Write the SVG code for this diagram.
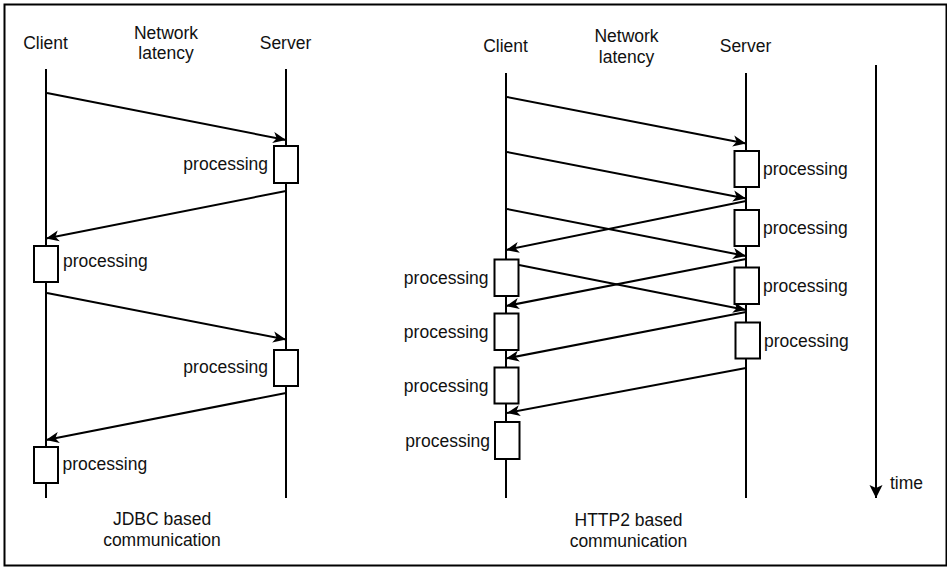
<svg xmlns="http://www.w3.org/2000/svg" width="947" height="567" viewBox="0 0 947 567">
<style>
text{font-family:"Liberation Sans",Arial,sans-serif;font-size:17.5px;fill:#111}
.c{text-anchor:middle}
.r{text-anchor:end}
.life{stroke:#000;stroke-width:2;fill:none}
.msg{stroke:#000;stroke-width:2;fill:none;marker-end:url(#arr)}
.box{fill:#fff;stroke:#000;stroke-width:2}
</style>
<defs>
<marker id="arr" markerUnits="userSpaceOnUse" markerWidth="14" markerHeight="12" refX="13" refY="5.5" orient="auto" overflow="visible">
<path d="M0,0 L13,5.5 L0,11 L3.5,5.5 Z" fill="#000"/>
</marker>
<marker id="tarr" markerUnits="userSpaceOnUse" markerWidth="14" markerHeight="14" refX="13" refY="6.5" orient="auto" overflow="visible">
<path d="M0,0 L13,6.5 L0,13 L3,6.5 Z" fill="#000"/>
</marker>
</defs>
<rect x="4.5" y="4.5" width="942" height="561" fill="#fff" stroke="#000" stroke-width="2"/>

<g id="jdbc-headers">
<text class="c" x="45.5" y="49">Client</text>
<text class="c" x="166" y="38.5">Network</text>
<text class="c" x="166" y="59">latency</text>
<text class="c" x="285.5" y="49">Server</text>
</g>
<g id="jdbc-client-lifeline"><line class="life" x1="46" y1="69" x2="46" y2="498"/></g>
<g id="jdbc-server-lifeline"><line class="life" x1="286" y1="69" x2="286" y2="498"/></g>

<g id="connectors">
<line class="msg" x1="47" y1="93" x2="286" y2="140"/>
<line class="msg" x1="286" y1="191" x2="46" y2="238.5"/>
<line class="msg" x1="47" y1="293" x2="286" y2="339.5"/>
<line class="msg" x1="286" y1="393" x2="46" y2="440"/>

<line class="msg" x1="507" y1="97" x2="746" y2="143.5"/>
<line class="msg" x1="507" y1="152" x2="746" y2="198.5"/>
<line class="msg" x1="507" y1="209" x2="746" y2="256"/>
<line class="msg" x1="519" y1="265" x2="746" y2="310"/>
<line class="msg" x1="746" y1="201" x2="506" y2="250"/>
<line class="msg" x1="746" y1="259" x2="506" y2="306"/>
<line class="msg" x1="746" y1="312" x2="506" y2="358.5"/>
<line class="msg" x1="746" y1="368" x2="507" y2="413"/>
</g>

<g id="jdbc-s1"><rect class="box" x="274" y="146" width="24" height="37"/><text class="r" x="268" y="170">processing</text></g>
<g id="jdbc-c1"><rect class="box" x="34" y="246" width="24" height="36"/><text x="63" y="267">processing</text></g>
<g id="jdbc-s2"><rect class="box" x="274" y="350" width="24" height="36"/><text class="r" x="268" y="372.5">processing</text></g>
<g id="jdbc-c2"><rect class="box" x="34" y="447" width="24" height="36"/><text x="62.5" y="470">processing</text></g>
<g id="jdbc-caption">
<text class="c" x="162" y="524.5">JDBC based</text>
<text class="c" x="162" y="545.5">communication</text>
</g>

<g id="http2-headers">
<text class="c" x="505.5" y="52">Client</text>
<text class="c" x="626.5" y="42">Network</text>
<text class="c" x="626.5" y="62.5">latency</text>
<text class="c" x="745.5" y="52">Server</text>
</g>
<g id="http2-client-lifeline"><line class="life" x1="506" y1="73" x2="506" y2="498"/></g>
<g id="http2-server-lifeline"><line class="life" x1="746" y1="73" x2="746" y2="498"/></g>

<g id="http2-s1"><rect class="box" x="734.5" y="151" width="24.5" height="36"/><text x="763" y="174.5">processing</text></g>
<g id="http2-s2"><rect class="box" x="734.5" y="210" width="24.5" height="36"/><text x="763" y="234">processing</text></g>
<g id="http2-s3"><rect class="box" x="734.5" y="267.5" width="24.5" height="36.5"/><text x="763" y="291.5">processing</text></g>
<g id="http2-s4"><rect class="box" x="735.5" y="322.5" width="24.5" height="36"/><text x="764" y="346.5">processing</text></g>

<g id="http2-c1"><rect class="box" x="494.5" y="259.5" width="24" height="36.5"/><text class="r" x="488.5" y="283.5">processing</text></g>
<g id="http2-c2"><rect class="box" x="494.5" y="313.5" width="24" height="36.5"/><text class="r" x="488.5" y="337.5">processing</text></g>
<g id="http2-c3"><rect class="box" x="494.5" y="367.5" width="24" height="36"/><text class="r" x="488.5" y="391.5">processing</text></g>
<g id="http2-c4"><rect class="box" x="495" y="422" width="24.5" height="37"/><text class="r" x="490" y="446.5">processing</text></g>

<g id="http2-caption">
<text class="c" x="628.5" y="526">HTTP2 based</text>
<text class="c" x="628.5" y="547">communication</text>
</g>

<g id="time-axis">
<line x1="876" y1="65" x2="876" y2="498" stroke="#000" stroke-width="2" marker-end="url(#tarr)"/>
<text x="890" y="489">time</text>
</g>
</svg>
